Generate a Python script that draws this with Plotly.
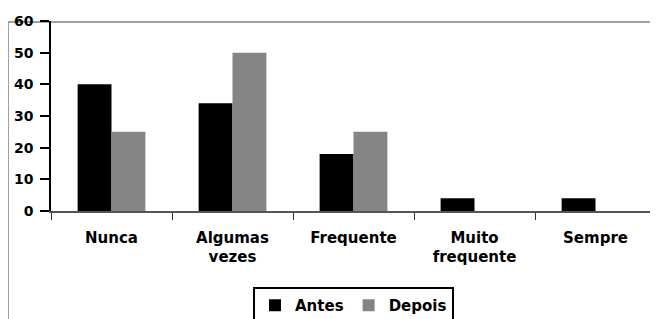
import plotly.graph_objects as go

categories = ["Nunca", "Algumas<br>vezes", "Frequente", "Muito<br>frequente", "Sempre"]
antes = [40, 34, 18, 4, 4]
depois = [25, 50, 25, 0, 0]
y_ticks = [0, 10, 20, 30, 40, 50, 60]

# page has an 8px body margin, so the figure is sized to fit the 658x319 window
W, H = 650, 311
ML, MR, MT, MB = 43, 2, 13, 108
pw, ph = W - ML - MR, H - MT - MB

font_b = dict(family="DejaVu Sans", weight="bold", color="#000000")

fig = go.Figure()
fig.add_trace(go.Bar(name="Antes", x=categories, y=antes,
                     marker=dict(color="#000000", line=dict(width=0))))
fig.add_trace(go.Bar(name="Depois", x=categories, y=depois,
                     marker=dict(color="#858585", line=dict(width=0))))

fig.update_layout(
    width=W, height=H,
    margin=dict(l=ML, r=MR, t=MT, b=MB, pad=0, autoexpand=False),
    paper_bgcolor="white", plot_bgcolor="white",
    barmode="group", bargap=0.44, bargroupgap=0,
    showlegend=True,
    legend=dict(orientation="h", x=0.5, xanchor="center",
                y=-76 / ph, yanchor="top",
                bordercolor="#000000", borderwidth=2, bgcolor="white",
                font=dict(size=15, **font_b), itemwidth=30,
                tracegroupgap=0),
    xaxis=dict(showline=True, linecolor="#555555", linewidth=1.5,
               ticks="outside", ticklen=7, tickcolor="#333333", tickwidth=1,
               tickson="boundaries", ticklabelstandoff=12, automargin=False,
               tickfont=dict(size=15, **font_b), showgrid=False,
               zeroline=False),
    yaxis=dict(range=[0, 60], tickvals=y_ticks, showline=True,
               linecolor="#000000", linewidth=1.5, automargin=False,
               ticks="outside", ticklen=9, tickcolor="#000000", tickwidth=1.5,
               tickfont=dict(size=14, **font_b), showgrid=False,
               zeroline=False, ticklabelstandoff=4),
    shapes=[dict(type="rect", xref="paper", yref="paper",
                 x0=-ML / pw, x1=1.2,
                 y0=-0.7, y1=(ph - 1) / ph,
                 line=dict(color="#a0a0a0", width=2), layer="below")],
)

fig.write_html("out.html")
